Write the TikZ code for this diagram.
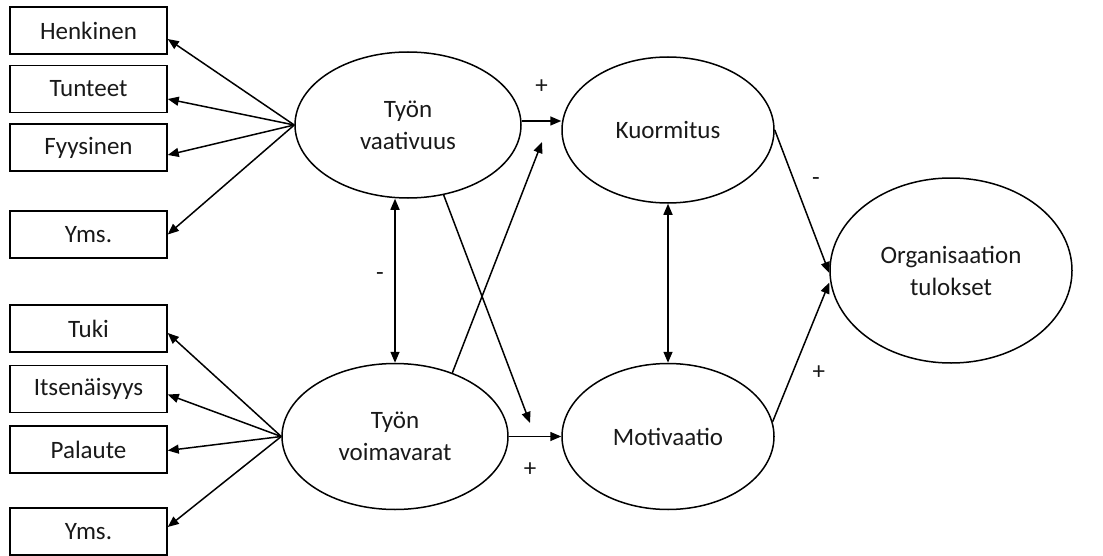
\documentclass[tikz,border=0pt]{standalone}
\usepackage{fontspec}
\setmainfont{Carlito}
\usetikzlibrary{positioning, arrows.meta, shapes.geometric}

\begin{document}
\begin{tikzpicture}[
    x=0.5pt, y=-0.5pt,
    every node/.style={font=\fontsize{12.5}{16}\selectfont, align=center, text=black!90},
    arr/.style={-{Triangle[length=5.5pt, width=4.5pt]}, line width=0.75pt},
    darr/.style={{Triangle[length=5.5pt, width=4.5pt]}-{Triangle[length=5.5pt, width=4.5pt]}, line width=0.75pt},
    factor/.style={draw, line width=0.75pt, rectangle, minimum width=78.5pt, minimum height=23.5pt, inner sep=0pt},
    latent/.style={draw, line width=0.75pt, ellipse, minimum width=113pt, minimum height=73pt, inner sep=0pt},
    node distance=5pt]

    \useasboundingbox (0,0) rectangle (1103,556);

    % indicators
    \node[factor] (henkinen) at (88.5,30.5) {Henkinen};
    \node[factor, below=of henkinen] (tunteet) {Tunteet};
    \node[factor, below=of tunteet] (fyysinen) {Fyysinen};
    \node[factor] (yms1) at (88.5,234.5) {Yms.};
    \node[factor] (tuki) at (88.5,328.5) {Tuki};
    \node[factor, below=6pt of tuki] (itsenaisyys) {Itsenäisyys};
    \node[factor, below=6pt of itsenaisyys] (palaute) {Palaute};
    \node[factor] (yms2) at (88.5,531.5) {Yms.};

    % latent factors
    \node[latent] (vaativuus) at (408,125) {Työn\\vaativuus};
    \node[latent] (voimavarat) at (395,436.5) {Työn\\voimavarat};
    \node[latent, minimum width=106pt] (kuormitus) at (668,130) {Kuormitus};
    \node[latent, minimum width=106pt] (motivaatio) at (668,436.5) {Motivaatio};
    \node[latent, minimum width=121pt, minimum height=92.5pt] (tulokset) at (951,270.5) {Organisaation\\tulokset};

    \coordinate (kuormitusin) at (542,142);
    \coordinate (motivaatioin) at (530,423);

    \foreach \f/\dy in {henkinen/-4.25, tunteet/-5, fyysinen/-3.75, yms1/0}
        \draw[arr] (vaativuus.west) -- ([yshift=\dy pt]\f.east);
    \foreach \f/\dy in {tuki/-2.25, itsenaisyys/-2.75, palaute/-0.5, yms2/2.25}
        \draw[arr] (voimavarat.west) -- ([yshift=\dy pt]\f.east);

    \draw[arr] ([yshift=2pt]vaativuus.east) -- ([yshift=2pt]vaativuus.east -| kuormitus.west) node[midway, yshift=17pt] {+};
    \draw[arr] (voimavarat.east) -- (voimavarat.east -| motivaatio.west) node[midway, xshift=-2.5pt, yshift=-16.5pt] {+};
    \draw[darr] (voimavarat.north) -- (voimavarat.north |- vaativuus.south) node[midway, xshift=-7.5pt, yshift=2pt] {-};
    \draw[arr] (vaativuus.-63) -- (motivaatioin);
    \draw[arr] (voimavarat.48) -- (kuormitusin);
    \draw[darr] (kuormitus.south) -- (motivaatio.north);

    % outcome
    \draw[arr] (kuormitus.east) -- ([yshift=-1.25pt]tulokset.west) node[midway, xshift=7pt, yshift=9.75pt] {-};
    \draw[arr] (motivaatio.8) -- ([yshift=-6pt]tulokset.west) node[midway, xshift=9pt, yshift=-10pt] {+};

\end{tikzpicture}
\end{document}
